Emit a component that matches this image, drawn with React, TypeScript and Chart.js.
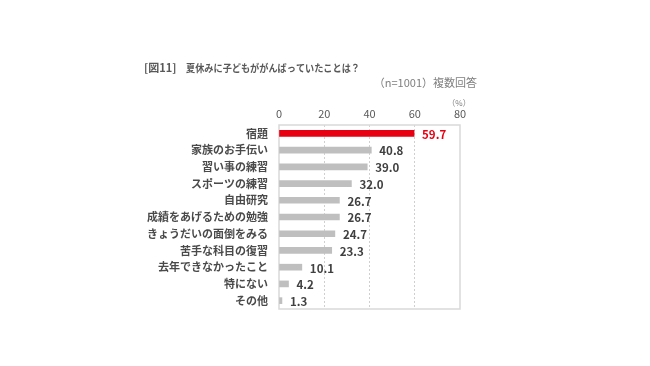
import React, { useEffect, useRef } from "react";
import { Chart, registerables } from "chart.js";
Chart.register(...registerables);

const categories = [
  "宿題",
  "家族のお手伝い",
  "習い事の練習",
  "スポーツの練習",
  "自由研究",
  "成績をあげるための勉強",
  "きょうだいの面倒をみる",
  "苦手な科目の復習",
  "去年できなかったこと",
  "特にない",
  "その他",
];
const values = [59.7, 40.8, 39.0, 32.0, 26.7, 26.7, 24.7, 23.3, 10.1, 4.2, 1.3];
const xTicks = [0, 20, 40, 60, 80];
const titleTag = "[図11]";
const titleText = "夏休みに子どもががんばっていたことは？";
const subtitleText = "（n=1001）複数回答";
const unitText = "（%）";

const FONT = "'Noto Sans CJK JP', 'Noto Sans', sans-serif";

export default function App() {
  const ref = useRef<HTMLCanvasElement | null>(null);
  useEffect(() => {
    document.body.style.margin = "0";
    const ctx = ref.current!;
    const colors = values.map((_, i) => (i === 0 ? "#e60012" : "#bfbfbf"));
    const deco = {
      id: "deco",
      beforeDatasetsDraw(chart: any) {
        const { ctx, chartArea: a } = chart;
        ctx.save();
        ctx.strokeStyle = "#d9d9d9";
        ctx.lineWidth = 1.5;
        ctx.strokeRect(a.left, a.top, a.right - a.left, a.bottom - a.top);
        ctx.restore();
      },
      afterDatasetsDraw(chart: any) {
        const { ctx } = chart;
        const meta = chart.getDatasetMeta(0);
        ctx.save();
        ctx.font = `bold 11.5px ${FONT}`;
        ctx.textBaseline = "middle";
        ctx.textAlign = "left";
        meta.data.forEach((el: any, i: number) => {
          ctx.fillStyle = i === 0 ? "#e60012" : "#404040";
          ctx.fillText(values[i].toFixed(1), el.x + 8, el.y + 1);
        });
        ctx.restore();
      },
      afterDraw(chart: any) {
        const { ctx } = chart;
        ctx.save();
        ctx.textBaseline = "middle";
        ctx.fillStyle = "#595959";
        ctx.font = `bold 11px ${FONT}`;
        ctx.textAlign = "left";
        ctx.fillText(titleTag, 144, 68, 34);
        ctx.font = `bold 10.5px ${FONT}`;
        ctx.fillText(titleText, 186, 68, 174);
        ctx.fillStyle = "#7f7f7f";
        ctx.font = `11px ${FONT}`;
        ctx.textAlign = "right";
        ctx.fillText(subtitleText, 477, 83);
        ctx.font = `8px ${FONT}`;
        ctx.textAlign = "center";
        ctx.fillText(unitText, 459, 103);
        ctx.restore();
      },
    };
    const chart = new Chart(ctx, {
      type: "bar",
      data: {
        labels: categories,
        datasets: [
          {
            data: values,
            backgroundColor: colors,
            barThickness: 6,
            borderWidth: 0,
          },
        ],
      },
      options: {
        indexAxis: "y",
        animation: false,
        responsive: false,
        maintainAspectRatio: false,
        layout: { padding: { left: 0, right: 190, top: 0, bottom: 57 } },
        plugins: { legend: { display: false }, tooltip: { enabled: false } },
        scales: {
          x: {
            position: "top",
            min: 0,
            max: 80,
            afterBuildTicks: (s: any) => {
              s.ticks = xTicks.map((v) => ({ value: v }));
            },
            afterFit: (s: any) => {
              s.height = 125;
            },
            ticks: {
              color: "#595959",
              font: { size: 11, family: FONT },
              padding: 5,
            },
            grid: {
              color: (c: any) => (c.tick && (c.tick.value === 0 || c.tick.value === 80) ? "rgba(0,0,0,0)" : "#d0d0d0"),
              drawTicks: false,
              lineWidth: 1,
            },
            border: { display: false, dash: [2, 2] },
          },
          y: {
            afterFit: (s: any) => {
              s.width = 279;
            },
            ticks: {
              color: "#4a4a4a",
              font: { size: 11, family: FONT, weight: "bold" },
              padding: 11,
            },
            grid: { display: false, drawTicks: false },
            border: { display: false },
          },
        },
      },
      plugins: [deco],
    } as any);
    return () => chart.destroy();
  }, []);
  return (
    <div style={{ position: "absolute", left: 0, top: 0, width: 650, height: 366, background: "#fff" }}>
      <canvas ref={ref} width={650} height={366} style={{ width: 650, height: 366 }} />
    </div>
  );
}
